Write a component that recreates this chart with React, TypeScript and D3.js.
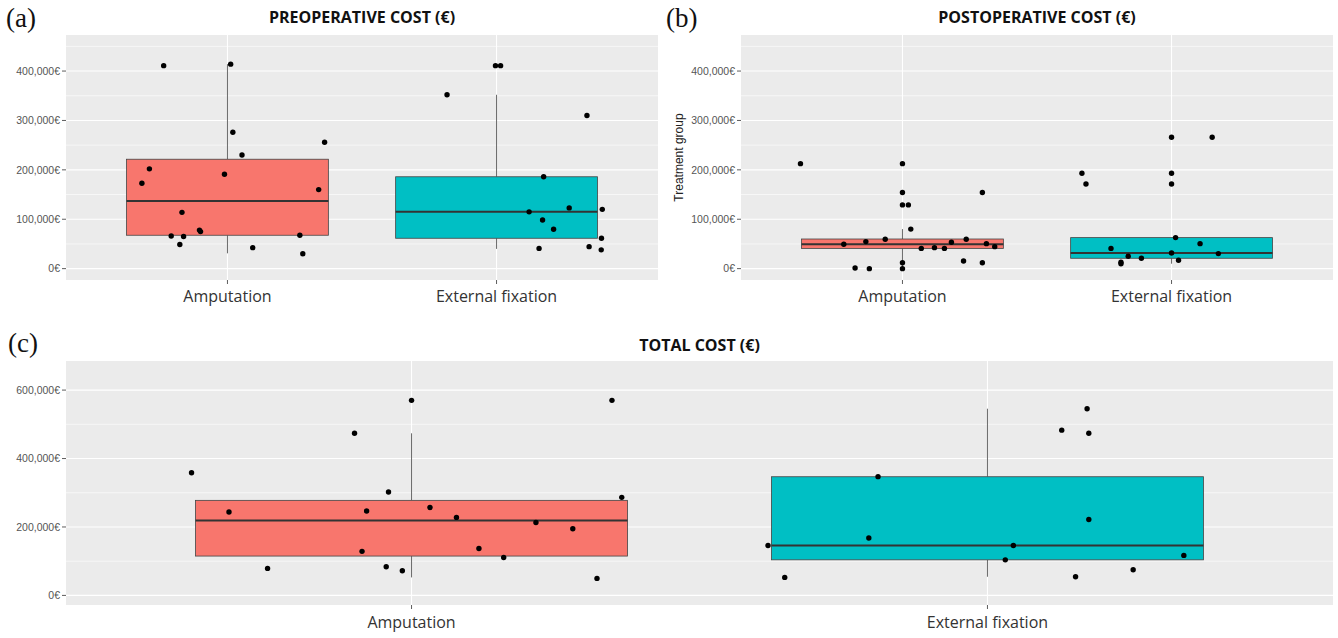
import React from "react";
import * as d3 from "d3";

const groups = ["Amputation", "External fixation"];

// preoperative cost (a)
const preAmpCost = [411000, 414000, 276000, 230000, 256000, 202000, 173000, 191000, 160000, 114000, 66000, 65000, 78000, 75000, 49000, 42500, 67600, 30000];
const preAmpJitter = [-0.237, 0.012, 0.02, 0.054, 0.361, -0.29, -0.318, -0.011, 0.339, -0.169, -0.209, -0.163, -0.104, -0.1, -0.177, 0.094, 0.269, 0.28];
const preExtCost = [411000, 411000, 352000, 310000, 186000, 115000, 123000, 120000, 98600, 79800, 61500, 41000, 44500, 38000];
const preExtJitter = [-0.004, 0.015, -0.184, 0.336, 0.175, 0.121, 0.27, 0.393, 0.171, 0.212, 0.39, 0.158, 0.344, 0.389];
// [lower whisker, q1, median, q3, upper whisker]
const preAmpBox = [31000, 67600, 137000, 221500, 414000];
const preExtBox = [40000, 61500, 115000, 186000, 352000];

// postoperative cost (b)
const postAmpCost = [212500, 212500, 154000, 154000, 129000, 129000, 80000, 59500, 59500, 54700, 53400, 49400, 50600, 41000, 42500, 41000, 44500, 15600, 12000, 12000, 0, 1400, 0];
const postAmpJitter = [-0.379, 0, 0, 0.297, 0, 0.022, 0.031, -0.064, 0.237, -0.136, 0.182, -0.218, 0.312, 0.07, 0.119, 0.156, 0.343, 0.227, 0.297, 0, 0, -0.176, -0.123];
const postExtCost = [266000, 266000, 193000, 193000, 171500, 171500, 62800, 50600, 41000, 31800, 30400, 25000, 21000, 13000, 10000, 17000];
const postExtJitter = [0, 0.151, -0.333, 0, -0.318, 0, 0.015, 0.106, -0.225, 0, 0.174, -0.161, -0.112, -0.188, -0.188, 0.026];
const postAmpBox = [0, 41000, 49400, 60000, 80000];
const postExtBox = [10000, 21000, 31800, 62800, 62800];

// total cost (c)
const totalAmpCost = [358500, 243600, 79000, 473700, 570000, 302000, 246500, 257000, 128700, 83600, 72000, 228000, 137000, 111000, 213000, 195000, 570000, 286500, 49700];
const totalAmpJitter = [-0.382, -0.317, -0.25, -0.099, 0, -0.04, -0.078, 0.032, -0.086, -0.044, -0.016, 0.078, 0.117, 0.16, 0.216, 0.28, 0.348, 0.365, 0.322];
const totalExtCost = [146000, 52600, 168000, 347000, 146000, 104000, 545600, 483000, 473700, 222000, 54500, 75000, 117000];
const totalExtJitter = [-0.381, -0.352, -0.206, -0.19, 0.045, 0.031, 0.173, 0.129, 0.176, 0.176, 0.153, 0.253, 0.341];
const totalAmpBox = [52600, 115000, 219000, 277800, 473700];
const totalExtBox = [54500, 104000, 146000, 346800, 545600];

const smallTicks = [0, 100000, 200000, 300000, 400000];
const smallMinor = [50000, 150000, 250000, 350000, 450000];
const bigTicks = [0, 200000, 400000, 600000];
const bigMinor = [100000, 300000, 500000];

const fills = ["#F8766D", "#00BFC4"];
const fmt = (v: number) => d3.format(",")(v) + "€";

function Panel(props: any) {
  const { x0, x1, y0, y1, domain, major, minor, title, titleY, titleSize, tag, tagX, tagY, ylabel, boxes, costs, jitters, labelY } = props;
  const x = d3.scalePoint<string>().domain(groups).range([x0, x1]).padding(0.6);
  const step = x.step();
  const y = d3.scaleLinear().domain(domain).range([y1, y0]);
  const bw = step * 0.75;

  return (
    <g>
      <rect x={x0} y={y0} width={x1 - x0} height={y1 - y0} fill="#EBEBEB" />
      {minor.map((v: number) => (
        <line key={"mi" + v} x1={x0} x2={x1} y1={y(v)} y2={y(v)} stroke="#fff" strokeWidth={0.6} />
      ))}
      {major.map((v: number) => (
        <line key={"ma" + v} x1={x0} x2={x1} y1={y(v)} y2={y(v)} stroke="#fff" strokeWidth={1.1} />
      ))}
      {groups.map((g) => (
        <line key={"vg" + g} x1={x(g)} x2={x(g)} y1={y0} y2={y1} stroke="#fff" strokeWidth={1.1} />
      ))}
      {groups.map((g, i) => {
        const b = boxes[i];
        const cx = x(g) as number;
        return (
          <g key={"box" + g}>
            <line x1={cx} x2={cx} y1={y(b[0])} y2={y(b[1])} stroke="#444" strokeWidth={0.8} />
            <line x1={cx} x2={cx} y1={y(b[3])} y2={y(b[4])} stroke="#444" strokeWidth={0.8} />
            <rect x={cx - bw / 2} y={y(b[3])} width={bw} height={y(b[1]) - y(b[3])} fill={fills[i]} stroke="#444" strokeWidth={0.8} />
            <line x1={cx - bw / 2} x2={cx + bw / 2} y1={y(b[2])} y2={y(b[2])} stroke="#333" strokeWidth={2} />
          </g>
        );
      })}
      {groups.map((g, i) =>
        costs[i].map((v: number, j: number) => (
          <circle key={"p" + i + "-" + j} cx={(x(g) as number) + jitters[i][j] * step} cy={y(v)} r={2.7} fill="#000" />
        ))
      )}
      {major.map((v: number) => (
        <g key={"yt" + v}>
          <line x1={x0 - 4} x2={x0} y1={y(v)} y2={y(v)} stroke="#333" strokeWidth={0.8} />
          <text x={x0 - 6} y={y(v)} dy="0.35em" textAnchor="end" fontFamily="Liberation Sans, Arial, sans-serif" fontSize={10.5} fill="#555">
            {fmt(v)}
          </text>
        </g>
      ))}
      {groups.map((g) => (
        <g key={"xt" + g}>
          <line x1={x(g)} x2={x(g)} y1={y1} y2={y1 + 4} stroke="#333" strokeWidth={0.8} />
          <text x={x(g)} y={labelY} textAnchor="middle" fontFamily="Open Sans, sans-serif" fontSize={16} fill="#333">
            {g}
          </text>
        </g>
      ))}
      <text x={(x0 + x1) / 2} y={titleY} textAnchor="middle" fontFamily="Open Sans, sans-serif" fontWeight="bold" fontSize={titleSize} fill="#111">
        {title}
      </text>
      <text x={tagX} y={tagY} fontFamily="Liberation Serif, Times New Roman, serif" fontSize={27} fill="#111">
        {tag}
      </text>
      {ylabel && (
        <text transform={`translate(${x0 - 58},${(y0 + y1) / 2}) rotate(-90)`} textAnchor="middle" fontFamily="Liberation Sans, Arial, sans-serif" fontSize={12} fill="#222">
          {ylabel}
        </text>
      )}
    </g>
  );
}

export default function App() {
  return (
    <svg width={1338} height={638} style={{ position: "absolute", left: 0, top: 0, background: "#fff" }}>
      <Panel
        x0={66} x1={658} y0={35} y1={280} domain={[-23000, 473000]}
        major={smallTicks} minor={smallMinor}
        title="PREOPERATIVE COST (€)" titleY={23} titleSize={16}
        tag="(a)" tagX={6} tagY={27}
        boxes={[preAmpBox, preExtBox]} costs={[preAmpCost, preExtCost]} jitters={[preAmpJitter, preExtJitter]}
        labelY={302}
      />
      <Panel
        x0={741} x1={1333} y0={35} y1={280} domain={[-23000, 473000]}
        major={smallTicks} minor={smallMinor}
        title="POSTOPERATIVE COST (€)" titleY={23} titleSize={16}
        tag="(b)" tagX={666} tagY={27}
        ylabel="Treatment group"
        boxes={[postAmpBox, postExtBox]} costs={[postAmpCost, postExtCost]} jitters={[postAmpJitter, postExtJitter]}
        labelY={302}
      />
      <Panel
        x0={66} x1={1333} y0={361} y1={605} domain={[-28000, 685000]}
        major={bigTicks} minor={bigMinor}
        title="TOTAL COST (€)" titleY={351} titleSize={16}
        tag="(c)" tagX={8} tagY={352}
        boxes={[totalAmpBox, totalExtBox]} costs={[totalAmpCost, totalExtCost]} jitters={[totalAmpJitter, totalExtJitter]}
        labelY={628}
      />
    </svg>
  );
}
